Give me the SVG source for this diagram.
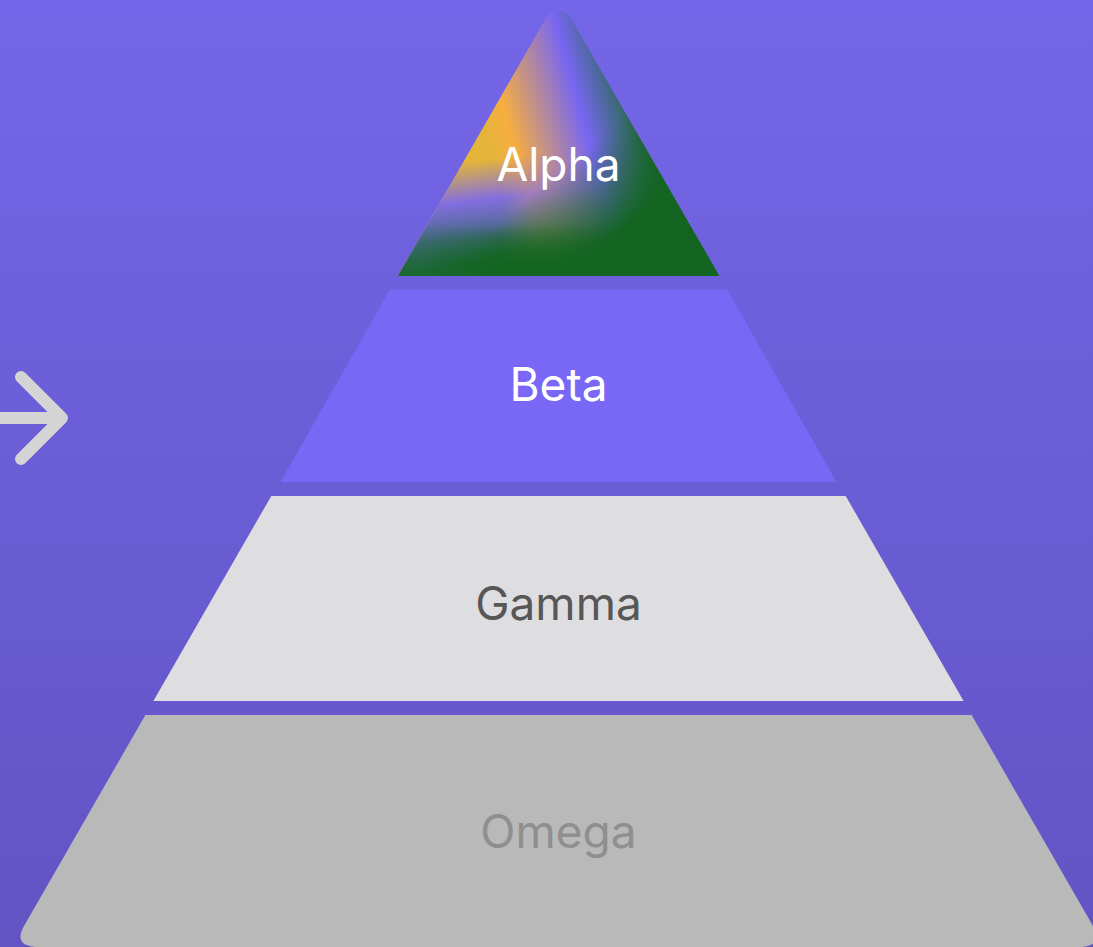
<svg xmlns="http://www.w3.org/2000/svg" width="1093" height="947" viewBox="0 0 1093 947">
  <defs>
    <linearGradient id="bg" x1="0" y1="0" x2="0" y2="1">
      <stop offset="0" stop-color="#7466E8"/>
      <stop offset="1" stop-color="#6254C3"/>
    </linearGradient>
    <linearGradient id="alphaBase" gradientUnits="userSpaceOnUse" x1="476.6" y1="106.5" x2="630.8" y2="64.1">
      <stop offset="0" stop-color="#E4B53A"/>
      <stop offset="0.16" stop-color="#F7AE40"/>
      <stop offset="0.62" stop-color="#7766F2"/>
      <stop offset="0.85" stop-color="#3C6A7A"/>
      <stop offset="1" stop-color="#146522"/>
    </linearGradient>
    <linearGradient id="alphaBand" gradientUnits="userSpaceOnUse" x1="500" y1="158" x2="512" y2="262">
      <stop offset="0" stop-color="#7766F2" stop-opacity="0"/>
      <stop offset="0.38" stop-color="#7766F2" stop-opacity="0.9"/>
      <stop offset="0.72" stop-color="#42697E" stop-opacity="1"/>
      <stop offset="1" stop-color="#1F6A3C" stop-opacity="1"/>
    </linearGradient>
    <linearGradient id="bandMaskGrad" gradientUnits="userSpaceOnUse" x1="500" y1="0" x2="630" y2="0">
      <stop offset="0" stop-color="#FFFFFF"/>
      <stop offset="1" stop-color="#000000"/>
    </linearGradient>
    <mask id="bandMask" maskUnits="userSpaceOnUse" x="380" y="0" width="360" height="290">
      <rect x="380" y="0" width="360" height="290" fill="url(#bandMaskGrad)"/>
    </mask>
    <linearGradient id="alphaRight" gradientUnits="userSpaceOnUse" x1="585" y1="150" x2="640" y2="215">
      <stop offset="0" stop-color="#146522" stop-opacity="0"/>
      <stop offset="1" stop-color="#146522" stop-opacity="1"/>
    </linearGradient>
    <linearGradient id="alphaBottom" gradientUnits="userSpaceOnUse" x1="0" y1="225" x2="0" y2="262">
      <stop offset="0" stop-color="#146522" stop-opacity="0"/>
      <stop offset="1" stop-color="#146522" stop-opacity="1"/>
    </linearGradient>
    <linearGradient id="bottomMaskGrad" gradientUnits="userSpaceOnUse" x1="420" y1="0" x2="500" y2="0">
      <stop offset="0" stop-color="#555555"/>
      <stop offset="1" stop-color="#FFFFFF"/>
    </linearGradient>
    <mask id="bottomMask" maskUnits="userSpaceOnUse" x="380" y="0" width="360" height="290">
      <rect x="380" y="0" width="360" height="290" fill="url(#bottomMaskGrad)"/>
    </mask>
    <path id="alphaShape" d="M 397.8 276 L 546 18.2 A 14.4 14.4 0 0 1 571 18.2 L 719.2 276 Z"/>
    <style>
      .label { font-family: Inter, "Liberation Sans", sans-serif; font-size: 46px; text-anchor: middle; }
      .arrow { fill: none; stroke: #D4D4D4; stroke-width: 12; stroke-linecap: round; stroke-linejoin: round; }
    </style>
  </defs>
  <rect x="0" y="0" width="1093" height="947" fill="url(#bg)"/>

  <g id="connectors">
    <path class="arrow" d="M -10 418 L 62 418 M 21 377 L 62 418 L 21 459"/>
  </g>

  <g id="alpha">
    <use href="#alphaShape" fill="url(#alphaBase)"/>
    <use href="#alphaShape" fill="url(#alphaBand)" mask="url(#bandMask)"/>
    <use href="#alphaShape" fill="url(#alphaRight)"/>
    <use href="#alphaShape" fill="url(#alphaBottom)" mask="url(#bottomMask)"/>
    <text class="label" x="558.5" y="181" fill="#FFFFFF">Alpha</text>
  </g>

  <g id="beta">
    <path d="M 389.7 290 L 727.3 290 L 836.5 482 L 280.5 482 Z" fill="#7868F5"/>
    <text class="label" x="558.5" y="401" fill="#FFFFFF">Beta</text>
  </g>

  <g id="gamma">
    <path d="M 271.3 496 L 845.7 496 L 963.6 701 L 153.4 701 Z" fill="#DEDDE0"/>
    <text class="label" x="558.5" y="620" fill="#575757">Gamma</text>
  </g>

  <g id="omega">
    <path d="M 145.4 715 L 971.6 715 L 1093 926 Q 1105 947 1077 947 L 40 947 Q 12 947 24 926 Z" fill="#B9B9B9"/>
    <text class="label" x="558.5" y="848" fill="#8F8F8F">Omega</text>
  </g>
</svg>
